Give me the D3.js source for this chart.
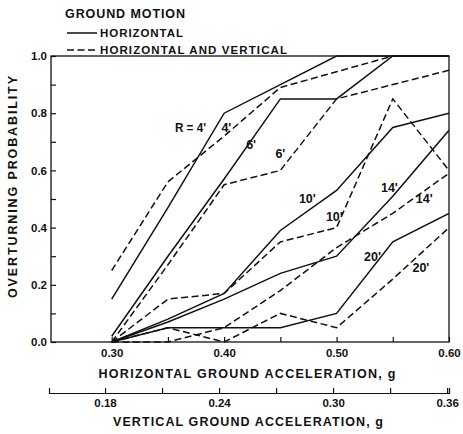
<!DOCTYPE html>
<html><head><meta charset="utf-8">
<script src="https://cdn.jsdelivr.net/npm/d3@7/dist/d3.min.js"></script>
<style>body{margin:0;background:#fff}svg{display:block}text{font-family:"Liberation Sans",Arial,sans-serif;font-weight:bold;fill:#111}</style>
</head><body><svg id="c" width="463" height="434"></svg>
<script>
const hAccel = [0.30, 0.35, 0.40, 0.45, 0.50, 0.55, 0.60];
const radii = ["4'", "6'", "10'", "14'", "20'"];
const horizOnly = [
  [0.15, 0.47, 0.80, 0.90, 1.00, 1.00, 1.00],
  [0.02, 0.30, 0.57, 0.85, 0.85, 1.00, 1.00],
  [0.00, 0.08, 0.17, 0.39, 0.53, 0.75, 0.80],
  [0.00, 0.07, 0.15, 0.24, 0.30, 0.51, 0.74],
  [0.00, 0.05, 0.05, 0.05, 0.10, 0.35, 0.45]
];
const horizVert = [
  [0.25, 0.56, 0.72, 0.89, 0.945, 1.00, 1.00],
  [0.00, 0.27, 0.55, 0.60, 0.85, 0.90, 0.95],
  [0.00, 0.15, 0.17, 0.35, 0.40, 0.85, 0.60],
  [0.00, 0.00, 0.05, 0.18, 0.33, 0.45, 0.59],
  [0.00, 0.05, 0.00, 0.10, 0.05, 0.22, 0.40]
];
const xTicks = [0.30, 0.35, 0.40, 0.45, 0.50, 0.55, 0.60];
const yTicks = [0, 0.1, 0.2, 0.3, 0.4, 0.5, 0.6, 0.7, 0.8, 0.9, 1.0];
const vTicks = [0.18, 0.21, 0.24, 0.27, 0.30, 0.33, 0.36];
// label anchor (x accel, probability) for curve labels
const solidLabels = [
  {t: "R = 4'", x: 0.370, y: 0.75, w: 31},
  {t: "6'", x: 0.424, y: 0.69},
  {t: "10'", x: 0.474, y: 0.50},
  {t: "14'", x: 0.547, y: 0.54},
  {t: "20'", x: 0.532, y: 0.30}
];
const dashLabels = [
  {t: "4'", x: 0.402, y: 0.75},
  {t: "6'", x: 0.450, y: 0.66},
  {t: "10'", x: 0.498, y: 0.44},
  {t: "14'", x: 0.578, y: 0.50},
  {t: "20'", x: 0.575, y: 0.26}
];

const svg = d3.select("#c");
const x = d3.scaleLinear().domain([0.246, 0.60]).range([51, 449]);
const y = d3.scaleLinear().domain([0, 1]).range([342, 56]);
const xv = d3.scaleLinear().domain([0.1505, 0.361]).range([49, 449]);

// frame
svg.append("rect").attr("x", 51).attr("y", 56).attr("width", 398).attr("height", 286)
  .attr("fill", "none").attr("stroke", "#111").attr("stroke-width", 1.3);

svg.append("clipPath").attr("id", "cp").append("rect")
  .attr("x", 51).attr("y", 55).attr("width", 398).attr("height", 288);

const line = d3.line().x((d, i) => x(hAccel[i])).y(d => y(d));
const g = svg.append("g").attr("clip-path", "url(#cp)");
horizOnly.forEach(s => g.append("path").attr("d", line(s)).attr("fill", "none")
  .attr("stroke", "#111").attr("stroke-width", 1.5));
horizVert.forEach(s => g.append("path").attr("d", line(s)).attr("fill", "none")
  .attr("stroke", "#111").attr("stroke-width", 1.5).attr("stroke-dasharray", "7,3.5"));

// axes
const xa = svg.append("g").attr("transform", "translate(0,342)")
  .call(d3.axisBottom(x).tickValues(xTicks).tickSizeInner(-5).tickSizeOuter(0).tickPadding(7)
    .tickFormat(d => (Math.round(d * 100) % 10 === 0) ? d3.format(".2f")(d) : ""));
xa.select(".domain").remove();
const ya = svg.append("g").attr("transform", "translate(51,0)")
  .call(d3.axisLeft(y).tickValues(yTicks).tickSizeInner(-5).tickSizeOuter(0).tickPadding(4)
    .tickFormat(d => (Math.round(d * 10) % 2 === 0) ? d3.format(".1f")(d) : ""));
ya.select(".domain").remove();
const va = svg.append("g").attr("transform", "translate(0,393)")
  .call(d3.axisBottom(xv).tickValues(vTicks).tickSizeInner(-5).tickSizeOuter(-5).tickPadding(6)
    .tickFormat(d => (Math.round(d * 100) % 6 === 0) ? d3.format(".2f")(d) : ""));
[xa, ya, va].forEach(a => {
  a.selectAll("line,path").attr("stroke", "#111").attr("stroke-width", 1.2);
  a.selectAll("text").attr("font-size", 11.5).attr("font-family", "Liberation Sans, Arial, sans-serif")
    .attr("font-weight", "bold").attr("fill", "#111");
});

// curve labels
solidLabels.concat(dashLabels).forEach(l => {
  const t = svg.append("text")
    .attr("x", x(l.x)).attr("y", y(l.y)).attr("text-anchor", "middle").attr("dy", "0.35em")
    .attr("font-size", 12.5).text(l.t);
  if (l.w) t.attr("textLength", l.w).attr("lengthAdjust", "spacingAndGlyphs");
});

// titles
svg.append("text").attr("x", 247).attr("y", 378).attr("text-anchor", "middle")
  .attr("font-size", 12.5).attr("textLength", 297).text("HORIZONTAL GROUND ACCELERATION, g");
svg.append("text").attr("x", 248).attr("y", 426).attr("text-anchor", "middle")
  .attr("font-size", 12.5).attr("textLength", 270).text("VERTICAL GROUND ACCELERATION, g");
svg.append("text").attr("transform", "translate(17,187) rotate(-90)").attr("text-anchor", "middle")
  .attr("font-size", 12.5).attr("textLength", 222).text("OVERTURNING PROBABILITY");

// legend
svg.append("text").attr("x", 65).attr("y", 18).attr("font-size", 12.5).attr("textLength", 120).text("GROUND MOTION");
svg.append("line").attr("x1", 67).attr("x2", 97).attr("y1", 33).attr("y2", 33).attr("stroke", "#111").attr("stroke-width", 1.5);
svg.append("text").attr("x", 100).attr("y", 37).attr("font-size", 11.5).attr("textLength", 83).text("HORIZONTAL");
svg.append("line").attr("x1", 67).attr("x2", 97).attr("y1", 50).attr("y2", 50).attr("stroke", "#111").attr("stroke-width", 1.5).attr("stroke-dasharray", "7,3.5");
svg.append("text").attr("x", 100).attr("y", 54).attr("font-size", 11.5).attr("textLength", 187).text("HORIZONTAL AND VERTICAL");
</script></body></html>
